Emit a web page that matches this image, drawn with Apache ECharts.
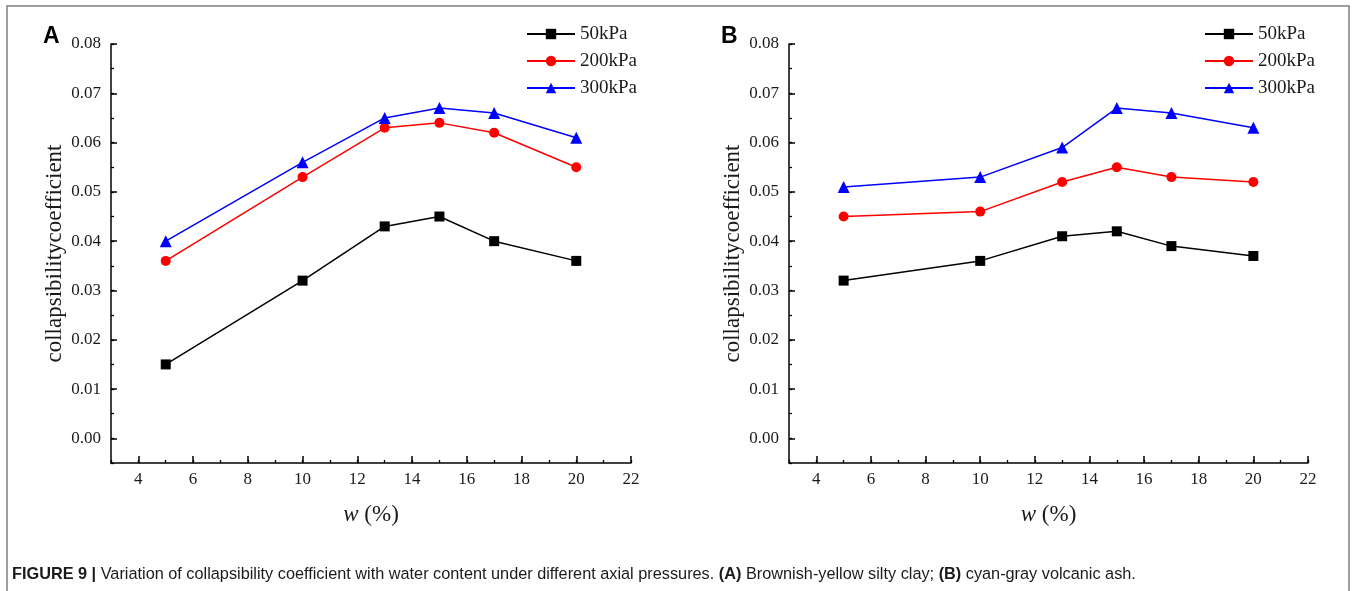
<!DOCTYPE html>
<html>
<head>
<meta charset="utf-8">
<script src="https://cdn.jsdelivr.net/npm/echarts@6/dist/echarts.min.js"></script>
<style>
html,body{margin:0;padding:0;background:#fff;}
#chart{width:1356px;height:591px;}
</style>
</head>
<body>
<div id="chart"></div>
<script>
// ---- data ----
const waterContent = [5, 10, 13, 15, 17, 20];
const pressureNames = ['50kPa', '200kPa', '300kPa'];
// Panel A: brownish-yellow silty clay
const clay50 = [0.015, 0.032, 0.043, 0.045, 0.040, 0.036];
const clay200 = [0.036, 0.053, 0.063, 0.064, 0.062, 0.055];
const clay300 = [0.040, 0.056, 0.065, 0.067, 0.066, 0.061];
// Panel B: cyan-gray volcanic ash
const ash50 = [0.032, 0.036, 0.041, 0.042, 0.039, 0.037];
const ash200 = [0.045, 0.046, 0.052, 0.055, 0.053, 0.052];
const ash300 = [0.051, 0.053, 0.059, 0.067, 0.066, 0.063];
const xTickValues = [4, 6, 8, 10, 12, 14, 16, 18, 20, 22];
const yTickValues = [0, 0.01, 0.02, 0.03, 0.04, 0.05, 0.06, 0.07, 0.08];
const captionText = '{b|FIGURE 9 |} Variation of collapsibility coefficient with water content under different axial pressures. {b|(A)} Brownish-yellow silty clay; {b|(B)} cyan-gray volcanic ash.';

// ---- styling ----
const colors = ['#000000', '#ff0000', '#0000ff'];
const symbols = ['rect', 'circle', 'triangle'];
const symbolSizes = [10, 10, 12];
const serif = '"Liberation Serif", "Times New Roman", serif';
const sans = '"Liberation Sans", Arial, sans-serif';
const tickFont = {fontFamily: serif, fontSize: 17, color: '#1a1a1a'};

const grids = [
  {left: 111, top: 44, width: 520, height: 419},
  {left: 789, top: 44, width: 519, height: 419}
];

function pair(xs, ys) { return xs.map((x, i) => [x, ys[i]]); }

const xAxes = [], yAxes = [], series = [], legends = [];
const panelData = [[clay50, clay200, clay300], [ash50, ash200, ash300]];
const legendLeft = [521, 1199];

grids.forEach((g, gi) => {
  // main x axis
  xAxes.push({
    type: 'value', gridIndex: gi, min: 3, max: 22, position: 'bottom',
    axisLine: {show: true, onZero: false, lineStyle: {color: '#000', width: 1.5}},
    axisTick: {show: true, inside: true, length: 7, customValues: xTickValues, lineStyle: {color: '#000', width: 1.5}},
    axisLabel: {customValues: xTickValues, margin: 8, ...tickFont},
    splitLine: {show: false},
    name: '{i|w} (%)', nameLocation: 'middle', nameGap: 40,
    nameTextStyle: {fontFamily: serif, fontSize: 23, color: '#1a1a1a', rich: {i: {fontFamily: serif, fontStyle: 'italic', fontSize: 23, color: '#1a1a1a'}}}
  });
  // minor x ticks
  xAxes.push({
    type: 'value', gridIndex: gi, min: 3, max: 22, interval: 1, position: 'bottom',
    axisLine: {show: false, onZero: false}, axisLabel: {show: false}, splitLine: {show: false},
    axisTick: {show: true, inside: true, length: 3, lineStyle: {color: '#000', width: 1.3}}
  });
  // main y axis
  yAxes.push({
    type: 'value', gridIndex: gi, min: -0.005, max: 0.08, position: 'left',
    axisLine: {show: true, onZero: false, lineStyle: {color: '#000', width: 1.5}},
    axisTick: {show: true, inside: true, length: 6, customValues: yTickValues, lineStyle: {color: '#000', width: 1.5}},
    axisLabel: {customValues: yTickValues, margin: 10, formatter: v => v.toFixed(2), ...tickFont},
    splitLine: {show: false},
    name: 'collapsibilitycoefficient', nameLocation: 'middle', nameGap: 45, nameRotate: 90,
    nameTextStyle: {fontFamily: serif, fontSize: 23, color: '#1a1a1a'}
  });
  // minor y ticks
  yAxes.push({
    type: 'value', gridIndex: gi, min: -0.005, max: 0.08, interval: 0.005, position: 'left', offset: 0,
    axisLine: {show: false, onZero: false}, axisLabel: {show: false}, splitLine: {show: false},
    axisTick: {show: true, inside: true, length: 3, lineStyle: {color: '#000', width: 1.3}}
  });

  panelData[gi].forEach((vals, si) => {
    series.push({
      type: 'line', name: pressureNames[si],
      xAxisIndex: gi * 2, yAxisIndex: gi * 2,
      data: pair(waterContent, vals),
      symbol: symbols[si], symbolSize: symbolSizes[si],
      lineStyle: {color: colors[si], width: 1.5},
      itemStyle: {color: colors[si]},
      z: 3 + si
    });
  });

  legends.push({
    orient: 'vertical', left: legendLeft[gi], top: 19,
    itemWidth: 48, itemHeight: 13, itemGap: 7,
    data: pressureNames,
    textStyle: {fontFamily: serif, fontSize: 19, color: '#1a1a1a', lineHeight: 20},
    selectedMode: false
  });
});

const chart = echarts.init(document.getElementById('chart'), null, {renderer: 'canvas'});
chart.setOption({
  backgroundColor: '#fff',
  animation: false,
  grid: grids,
  xAxis: xAxes,
  yAxis: yAxes,
  legend: legends,
  series: series,
  graphic: [
    {type: 'rect', shape: {x: 7, y: 6, width: 1342, height: 640}, style: {fill: 'none', stroke: '#808080', lineWidth: 1.5}, silent: true},
    {type: 'text', left: 43, top: 25, style: {text: 'A', font: 'bold 23px ' + sans, fill: '#000'}},
    {type: 'text', left: 721, top: 25, style: {text: 'B', font: 'bold 23px ' + sans, fill: '#000'}},
    {type: 'text', left: 12, top: 567, style: {
      text: captionText,
      font: '16.3px ' + sans, fill: '#1a1a1a',
      rich: {b: {fontWeight: 'bold', fontSize: 16.3, fontFamily: sans, fill: '#1a1a1a'}}
    }}
  ]
});
</script>
</body>
</html>
